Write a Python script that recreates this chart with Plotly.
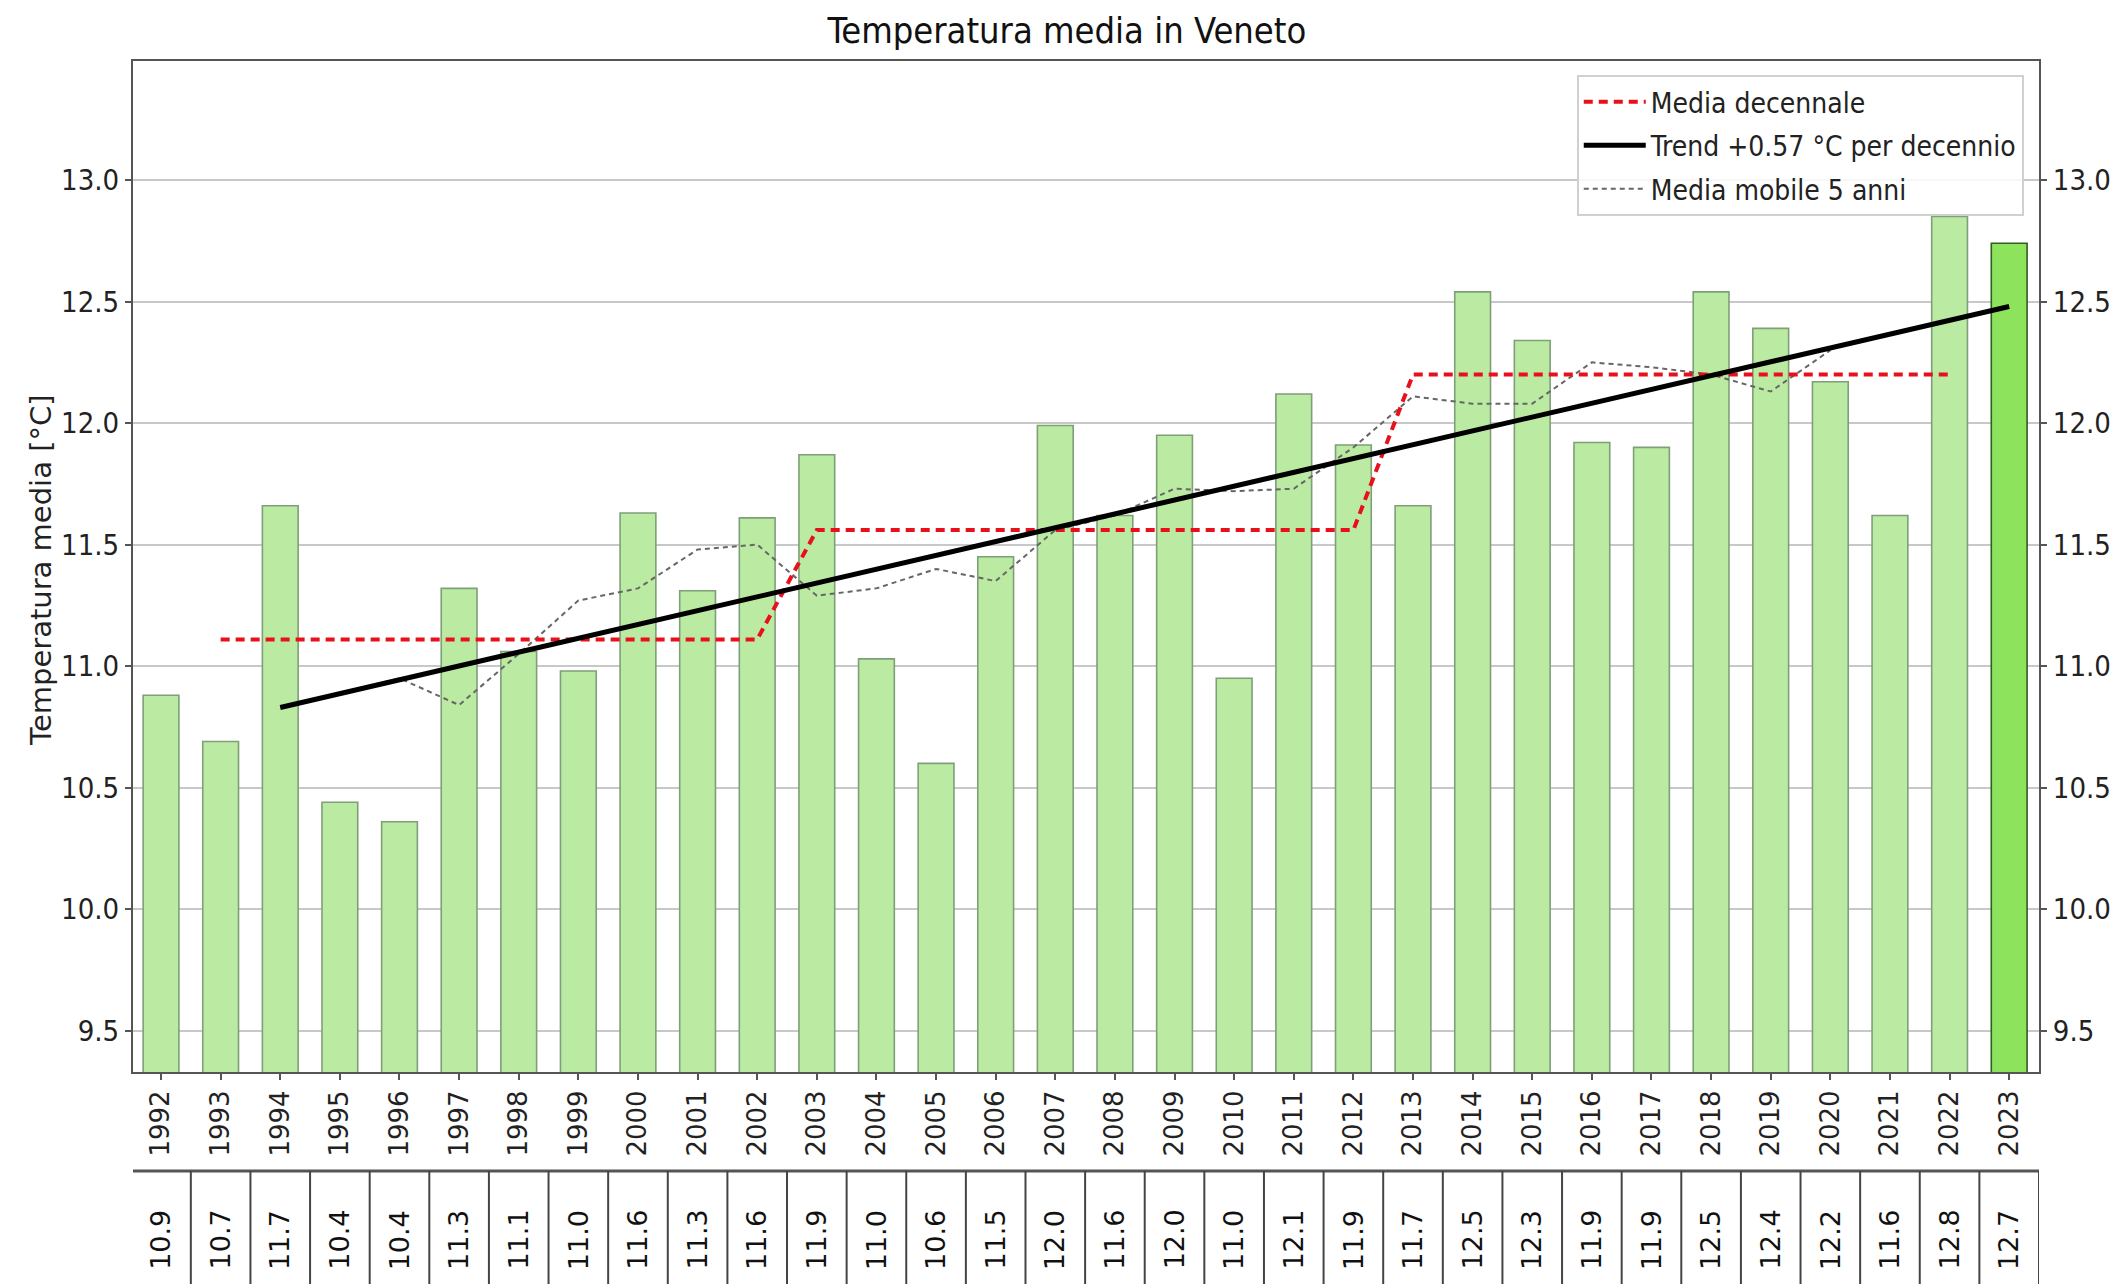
import plotly.graph_objects as go

years = list(range(1992, 2024))
temps = [10.88, 10.69, 11.66, 10.44, 10.36, 11.32, 11.06, 10.98, 11.63, 11.31,
         11.61, 11.87, 11.03, 10.60, 11.45, 11.99, 11.62, 11.95, 10.95, 12.12,
         11.91, 11.66, 12.54, 12.34, 11.92, 11.90, 12.54, 12.39, 12.17, 11.62,
         12.85, 12.74]
table_labels = ["10.9", "10.7", "11.7", "10.4", "10.4", "11.3", "11.1", "11.0", "11.6", "11.3",
                "11.6", "11.9", "11.0", "10.6", "11.5", "12.0", "11.6", "12.0", "11.0", "12.1",
                "11.9", "11.7", "12.5", "12.3", "11.9", "11.9", "12.5", "12.4", "12.2", "11.6",
                "12.8", "12.7"]

dec_years = list(range(1993, 2023))
dec_vals = [11.11] * 10 + [11.56] * 10 + [12.20] * 10

trend_years = [1994, 2023]
trend_vals = [10.83, 12.48]

mm_years = list(range(1994, 2021))
mm_vals = [10.83, 10.89, 10.95, 10.84, 11.05, 11.27, 11.32, 11.48, 11.50, 11.29,
           11.32, 11.40, 11.35, 11.56, 11.62, 11.73, 11.72, 11.73, 11.90, 12.11,
           12.08, 12.08, 12.25, 12.23, 12.20, 12.13, 12.30]

title_text = "Temperatura media in Veneto"
ytitle = "Temperatura media [°C]"
yticks = [9.5, 10.0, 10.5, 11.0, 11.5, 12.0, 12.5, 13.0]
yrange = [9.33, 13.49]

FONT_C = "DejaVu Sans Condensed, DejaVu Sans, sans-serif"
FONT = "DejaVu Sans, sans-serif"

bar_colors = ["#bbeaa3"] * (len(years) - 1) + ["#8ee35c"]
bar_edges = ["#7f9f78"] * (len(years) - 1) + ["#2e5e22"]

fig = go.Figure()
fig.add_trace(go.Bar(x=years, y=temps, width=0.6, marker=dict(color=bar_colors,
              line=dict(color=bar_edges, width=1.6)), showlegend=False, hoverinfo="skip"))
fig.add_trace(go.Scatter(x=mm_years, y=mm_vals, mode="lines", name="Media mobile 5 anni",
              line=dict(color="#666666", width=2, dash="5px,4px"), legendrank=3,
              legendgroup="c"))
fig.add_trace(go.Scatter(x=dec_years, y=dec_vals, mode="lines", name="Media decennale",
              line=dict(color="#e8101a", width=4, dash="9px,6px"), legendrank=1,
              legendgroup="a"))
fig.add_trace(go.Scatter(x=trend_years, y=trend_vals, mode="lines",
              name="Trend +0.57 °C per decennio", line=dict(color="black", width=5),
              legendrank=2, legendgroup="b"))
fig.add_trace(go.Scatter(x=[years[0]], y=[temps[0]], yaxis="y2", mode="markers",
              marker=dict(opacity=0), showlegend=False, hoverinfo="skip"))

# table below the axis
t_top = -0.098
fig.add_shape(type="line", xref="x", yref="paper", x0=years[0] - 0.5, x1=years[-1] + 0.5,
              y0=t_top, y1=t_top, line=dict(color="#555555", width=3))
for yv in years + [years[-1] + 1]:
    fig.add_shape(type="line", xref="x", yref="paper", x0=yv - 0.5, x1=yv - 0.5,
                  y0=t_top, y1=-0.3, line=dict(color="#444444", width=2))
for yv, lab in zip(years, table_labels):
    fig.add_annotation(x=yv, y=-0.166, xref="x", yref="paper", text=lab, textangle=-90,
                       showarrow=False, xanchor="center", yanchor="middle",
                       font=dict(family=FONT, size=27, color="#111111"))

fig.add_annotation(x=-0.0483, y=0.4966, xref="paper", yref="paper", text=ytitle, textangle=-90,
                   showarrow=False, xanchor="center", yanchor="middle",
                   font=dict(family=FONT, size=29, color="#222222"))

axis_common = dict(showline=True, linecolor="#555555", linewidth=2, ticks="outside",
                   ticklen=6, tickwidth=2, tickcolor="#555555", automargin=False)

W, H = 2119, 1276  # page body adds an 8px offset
fig.update_layout(
    width=W, height=H,
    margin=dict(l=125, r=88, t=53, b=212, autoexpand=False),
    paper_bgcolor="white", plot_bgcolor="white",
    title=dict(text=title_text, x=0.49, xref="paper", xanchor="center",
               y=1 - 22 / H, yref="container", yanchor="middle",
               font=dict(family=FONT_C, size=36, color="#111111")),
    xaxis=dict(range=[1991.53, 2023.5], tickvals=years, ticktext=[str(y) for y in years],
               tickangle=-90, tickfont=dict(family=FONT, size=26, color="#222222"),
               mirror=True, showgrid=False, zeroline=False, **axis_common),
    yaxis=dict(range=yrange, tickvals=yticks, ticktext=[f"{v:.1f}" for v in yticks],
               tickfont=dict(family=FONT_C, size=29, color="#222222"),
               showgrid=True, gridcolor="#c8c8c8", gridwidth=2, zeroline=False,
               mirror=True, **axis_common),
    yaxis2=dict(range=yrange, overlaying="y", side="right", tickvals=yticks,
                ticktext=[f"{v:.1f}" for v in yticks],
                tickfont=dict(family=FONT_C, size=29, color="#222222"),
                showgrid=False, zeroline=False, **axis_common),
    legend=dict(x=0.992, y=0.986, xanchor="right", yanchor="top",
                bgcolor="rgba(255,255,255,0.85)", bordercolor="#d0d0d0", borderwidth=2,
                font=dict(family=FONT_C, size=28, color="#222222"), itemwidth=62,
                tracegroupgap=4),
    showlegend=True,
)

fig.write_html("out.html")
